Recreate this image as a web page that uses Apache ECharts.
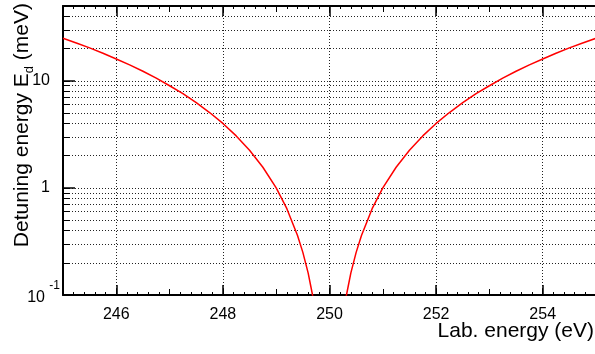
<!DOCTYPE html>
<html>
<head>
<meta charset="utf-8">
<script src="https://cdn.jsdelivr.net/npm/echarts@6/dist/echarts.min.js"></script>
<style>
  html, body { margin: 0; padding: 0; background: #fff; }
  #chart { width: 595px; height: 354px; }
</style>
</head>
<body>
<div id="chart"></div>
<script>
// values (left and right branch)
const leftEnergy = [245, 245.25, 245.5, 245.75, 246, 246.25, 246.5, 246.75, 247, 247.25, 247.5, 247.75,
  248, 248.25, 248.5, 248.75, 249, 249.2, 249.4, 249.5, 249.6, 249.65, 249.7, 249.75];
const leftDetuning = [25, 22.6, 20.3, 18.1, 16, 14.1, 12.3, 10.6, 9, 7.6, 6.25, 5.06,
  4, 3.06, 2.25, 1.56, 1, 0.64, 0.36, 0.25, 0.16, 0.12, 0.09, 0.063];
const rightEnergy = [250.25, 250.3, 250.35, 250.4, 250.5, 250.6, 250.8, 251, 251.25, 251.5, 251.75,
  252, 252.25, 252.5, 252.75, 253, 253.25, 253.5, 253.75, 254, 254.25, 254.5, 254.75, 255];
const rightDetuning = [0.063, 0.09, 0.12, 0.16, 0.25, 0.36, 0.64, 1, 1.56, 2.25, 3.06,
  4, 5.06, 6.25, 7.6, 9, 10.6, 12.3, 14.1, 16, 18.1, 20.3, 22.6, 25];

const xLabels = [246, 248, 250, 252, 254];
const yMajor = [0.1, 1, 10];
const yMinor = [0.2, 0.3, 0.4, 0.5, 0.6, 0.7, 0.8, 0.9,
  1, 2, 3, 4, 5, 6, 7, 8, 9, 10, 20, 30, 40];

const font = "Liberation Sans, Arial, Helvetica, sans-serif";
const dotted = { color: "#222", width: 1, type: [1, 2] };

const chart = echarts.init(document.getElementById("chart"));

const pair = (xs, ys) => xs.map((x, i) => [x, ys[i]]);

// main x axis (labels, grid) + helper axes for the finer ticks
const xBase = { type: "value", min: 245, max: 255, gridIndex: 0 };
const option = {
  animation: false,
  backgroundColor: "#fff",
  grid: { left: 63, right: -1, top: 6, bottom: 59, outerBoundsMode: "none", containLabel: false },
  // axis titles as plain text, placed like the ROOT ones (right / top aligned)
  graphic: [
    {
      type: "text",
      x: 36,
      y: 3,
      rotation: Math.PI / 2,
      style: {
        text: "{a|Detuning energy E}{s|d}{a| (meV)}",
        align: "right",
        verticalAlign: "bottom",
        rich: {
          a: { fontFamily: font, fontSize: 21, lineHeight: 28, fill: "#000", verticalAlign: "middle" },
          s: { fontFamily: font, fontSize: 13, lineHeight: 14, fill: "#000", verticalAlign: "bottom" },
        },
      },
    },
    {
      type: "text",
      right: 1,
      top: 321,
      style: {
        text: "Lab. energy (eV)",
        fontFamily: font,
        fontSize: 21,
        fill: "#000",
      },
    },
  ],
  xAxis: [
    {
      ...xBase,
      position: "bottom",
      axisLine: { onZero: false, lineStyle: { color: "#000", width: 2 } },
      axisTick: { inside: true, length: 10, customValues: xLabels, lineStyle: { color: "#000", width: 1.5 } },
      axisLabel: { customValues: xLabels, margin: 12, fontFamily: font, fontSize: 16, color: "#000" },
      splitLine: { show: true, lineStyle: dotted },
    },
    {
      ...xBase,
      position: "bottom",
      interval: 1,
      axisLine: { show: false },
      axisTick: { inside: true, length: 6, lineStyle: { color: "#000" } },
      minorTick: { show: true, splitNumber: 5, length: 3, lineStyle: { color: "#000" } },
      axisLabel: { show: false },
      splitLine: { show: false },
    },
    {
      ...xBase,
      position: "top",
      axisLine: { onZero: false, lineStyle: { color: "#000", width: 2 } },
      axisTick: { inside: true, length: 10, customValues: xLabels, lineStyle: { color: "#000", width: 1.5 } },
      axisLabel: { show: false },
      splitLine: { show: false },
    },
    {
      ...xBase,
      position: "top",
      interval: 1,
      axisLine: { show: false },
      axisTick: { inside: true, length: 6, lineStyle: { color: "#000" } },
      minorTick: { show: true, splitNumber: 5, length: 3, lineStyle: { color: "#000" } },
      axisLabel: { show: false },
      splitLine: { show: false },
    },
  ],
  yAxis: [
    {
      type: "log",
      logBase: 10,
      min: 0.1,
      max: 50,
      position: "left",
      axisLine: { onZero: false, lineStyle: { color: "#000", width: 2 } },
      axisTick: { inside: true, length: 12, customValues: yMajor, lineStyle: { color: "#000", width: 1.5 } },
      axisLabel: {
        customValues: yMajor,
        margin: 3,
        fontFamily: font,
        color: "#000",
        formatter: (v) => (v < 0.5 ? "{s|-1}\n{b|10}" : "{n|" + Math.round(v) + "}"),
        rich: {
          n: { fontFamily: font, fontSize: 16, color: "#000", padding: [0, 10, 0, 0] },
          b: { fontFamily: font, fontSize: 16, lineHeight: 16, color: "#000", padding: [0, 15, 6, 0] },
          s: { fontFamily: font, fontSize: 12, lineHeight: 12, color: "#000", padding: [0, 0, 3, 0] },
        },
      },
      splitLine: { show: false },
    },
    {
      type: "log",
      logBase: 10,
      min: 0.1,
      max: 50,
      position: "left",
      axisLine: { show: false },
      axisTick: { inside: true, length: 7, customValues: yMinor, lineStyle: { color: "#000" } },
      axisLabel: { show: false },
      splitLine: { show: true, lineStyle: dotted },
    },
  ],
  series: [
    {
      type: "line",
      xAxisIndex: 0,
      yAxisIndex: 0,
      data: pair(leftEnergy, leftDetuning),
      showSymbol: false,
      lineStyle: { color: "#ff0000", width: 1.5 },
    },
    {
      type: "line",
      xAxisIndex: 0,
      yAxisIndex: 0,
      data: pair(rightEnergy, rightDetuning),
      showSymbol: false,
      lineStyle: { color: "#ff0000", width: 1.5 },
    },
  ],
};

chart.setOption(option);
</script>
</body>
</html>
